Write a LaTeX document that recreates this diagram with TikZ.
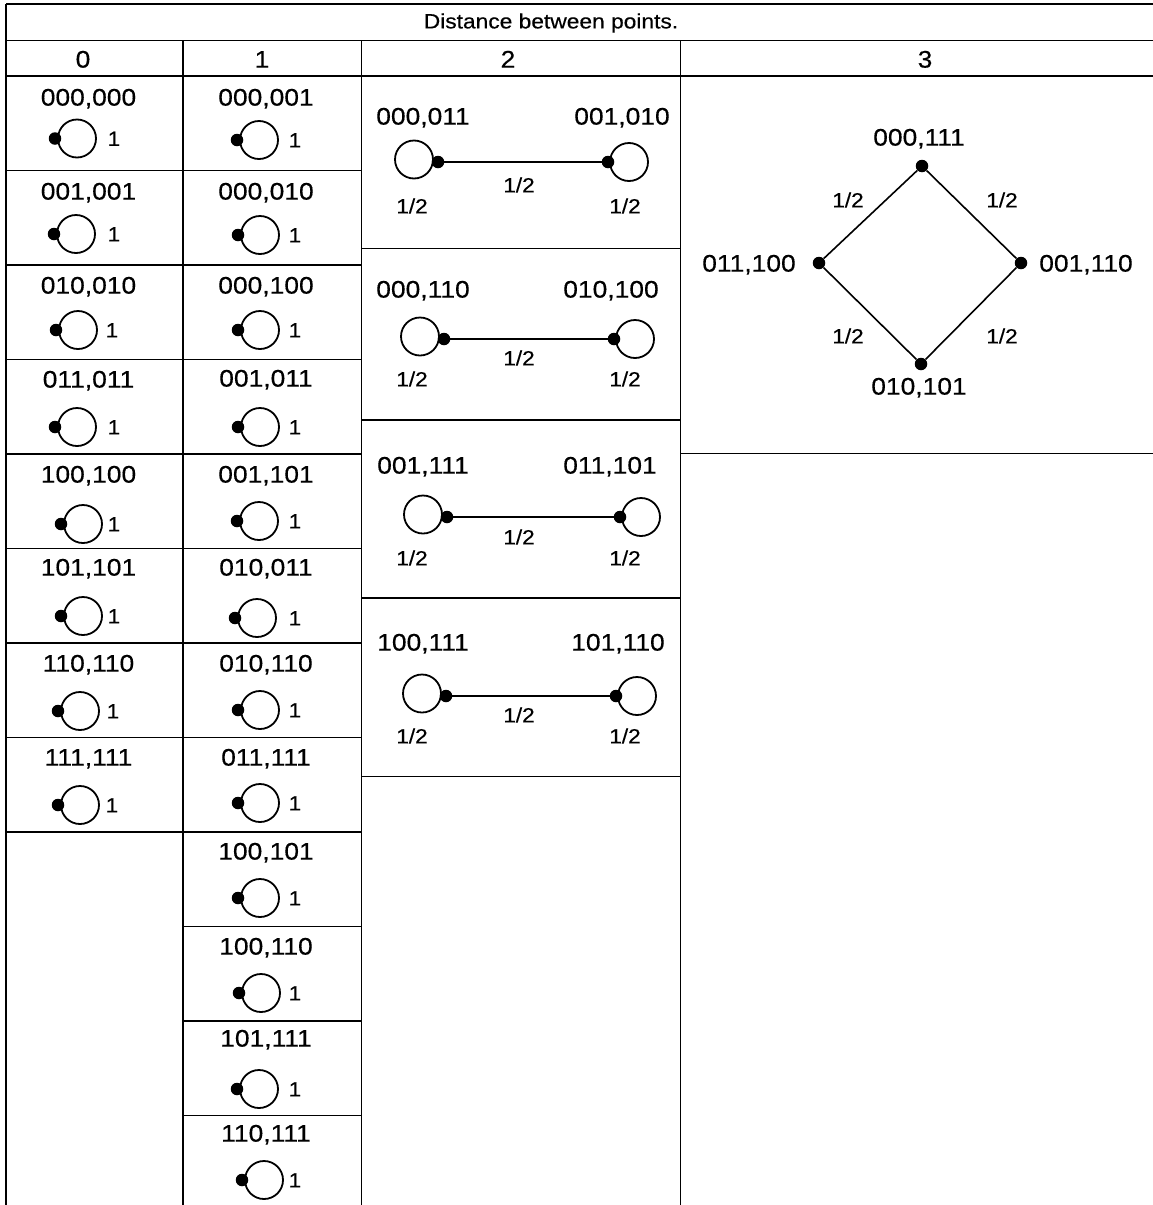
\documentclass[tikz,border=0pt]{standalone}
\usepackage{fontspec}
\setmainfont{Liberation Sans}[FakeStretch=1.1,FakeBold=0.4]
\newcommand\lcell[7]{% #1 name, #2 label x, #3 label y, #4 dot x, #5 circle y, #6 text, #7 one x
  \node[lbl] (#1-l) at (#2,#3) {#6};
  \node[loopc] (#1-c) at (#4+22,#5) {};
  \node[dotn] (#1-d) at (#4,#5) {};
  \node[small] (#1-w) at (#7,#5) {1};
}
\newcommand\ecell[9]{% #1 name, #2 label y, #3 dot y, #4 left text, #5 right text, #6 right label x, #7 left dot x, #8 right dot x, #9 mid label y
  \node[lbl] (#1-ll) at (423,#2) {#4};
  \node[lbl] (#1-rl) at (#6,#2) {#5};
  \node[loopc] (#1-lc) at (#7-24,#3-2.5) {};
  \node[loopc] (#1-rc) at (#8+21,#3) {};
  \node[dotn] (#1-ld) at (#7,#3) {};
  \node[dotn] (#1-rd) at (#8,#3) {};
  \draw[edge] (#1-ld) -- (#1-rd);
  \node[small] (#1-m) at (519,#9) {1/2};
  \node[small] (#1-lw) at (412,#9+21) {1/2};
  \node[small] (#1-rw) at (625,#9+21) {1/2};
}
\begin{document}
\begin{tikzpicture}[x=1pt,y=-1pt,
  grid/.style={line width=1.9pt},
  lbl/.style={inner sep=0pt, font=\fontsize{24}{28}\selectfont, text height=17.2pt, text depth=0pt},
  small/.style={inner sep=0pt, font=\fontsize{20.5}{24}\selectfont, text height=14.7pt, text depth=0pt},
  ttl/.style={inner sep=0pt, font=\fontsize{20.7}{24}\selectfont, text height=14.8pt, text depth=0pt},
  dotn/.style={circle, fill=black, inner sep=0pt, minimum size=12.5pt},
  loopc/.style={circle, draw, line width=1.8pt, inner sep=0pt, minimum size=38pt},
  edge/.style={line width=1.8pt}]
\useasboundingbox (0,0) rectangle (1153,1205);
% table frame
\draw[grid] (6,4) -- (1153,4);
\draw[grid] (6,40.5) -- (1153,40.5);
\draw[grid] (6,76) -- (1153,76);
\draw[grid] (6,4) -- (6,1205);
\foreach \x in {182.7,361.5,680.5} \draw[grid] (\x,40.5) -- (\x,1205);
\foreach \k in {1,...,8} \draw[grid] (6,76+94.5*\k) -- (361.5,76+94.5*\k);
\foreach \k in {9,10,11} \draw[grid] (182.7,76+94.5*\k) -- (361.5,76+94.5*\k);
\foreach \y in {248.5,420,598,776.5} \draw[grid] (361.5,\y) -- (680.5,\y);
\draw[grid] (680.5,453.5) -- (1153,453.5);
% title and headers
\node[ttl] (title) at (551,21) {Distance between points.};
\node[lbl] (h0) at (83,59) {0};
\node[lbl] (h1) at (262,59) {1};
\node[lbl] (h2) at (508,59) {2};
\node[lbl] (h3) at (925,59) {3};
% column 0
\lcell{a1}{88.5}{97}{55}{138.5}{000,000}{114}
\lcell{a2}{88.5}{191}{54}{234}{001,001}{114}
\lcell{a3}{88.5}{285}{56}{330}{010,010}{112}
\lcell{a4}{88.5}{379}{55}{427}{011,011}{114}
\lcell{a5}{88.5}{474}{61}{524}{100,100}{114}
\lcell{a6}{88.5}{567}{61}{616}{101,101}{114}
\lcell{a7}{88.5}{663}{58}{711}{110,110}{113}
\lcell{a8}{88.5}{757}{58}{805}{111,111}{112}
% column 1
\lcell{b1}{266}{97}{237}{140}{000,001}{295}
\lcell{b2}{266}{191}{238}{235}{000,010}{295}
\lcell{b3}{266}{285}{238}{330}{000,100}{295}
\lcell{b4}{266}{378}{238}{427}{001,011}{295}
\lcell{b5}{266}{474}{237}{521}{001,101}{295}
\lcell{b6}{266}{567}{235}{618}{010,011}{295}
\lcell{b7}{266}{663}{238}{710}{010,110}{295}
\lcell{b8}{266}{757}{238}{803}{011,111}{295}
\lcell{b9}{266}{851}{238}{898}{100,101}{295}
\lcell{b10}{266}{946}{239}{993}{100,110}{295}
\lcell{b11}{266}{1038}{237}{1089}{101,111}{295}
\lcell{b12}{266}{1133}{242}{1180}{110,111}{295}
% column 2
\ecell{e1}{116}{162}{000,011}{001,010}{622}{438}{608}{185}
\ecell{e2}{289}{339}{000,110}{010,100}{611}{444}{614}{358}
\ecell{e3}{465}{517}{001,111}{011,101}{610}{447}{620}{537}
\ecell{e4}{642}{696}{100,111}{101,110}{618}{446}{616}{715}
% column 3
\node[dotn] (dt) at (922,166) {};
\node[dotn] (dl) at (819,263) {};
\node[dotn] (dr) at (1021,263) {};
\node[dotn] (db) at (921,364) {};
\draw[line width=1.6pt] (dt) -- (dr) -- (db) -- (dl) -- (dt);
\node[lbl] (lt) at (919,137) {000,111};
\node[lbl] (ll) at (749,263) {011,100};
\node[lbl] (lr) at (1086,263) {001,110};
\node[lbl] (lb) at (919,386) {010,101};
\node[small] (w1) at (848,200) {1/2};
\node[small] (w2) at (1002,200) {1/2};
\node[small] (w3) at (848,336) {1/2};
\node[small] (w4) at (1002,336) {1/2};
\end{tikzpicture}
\end{document}
